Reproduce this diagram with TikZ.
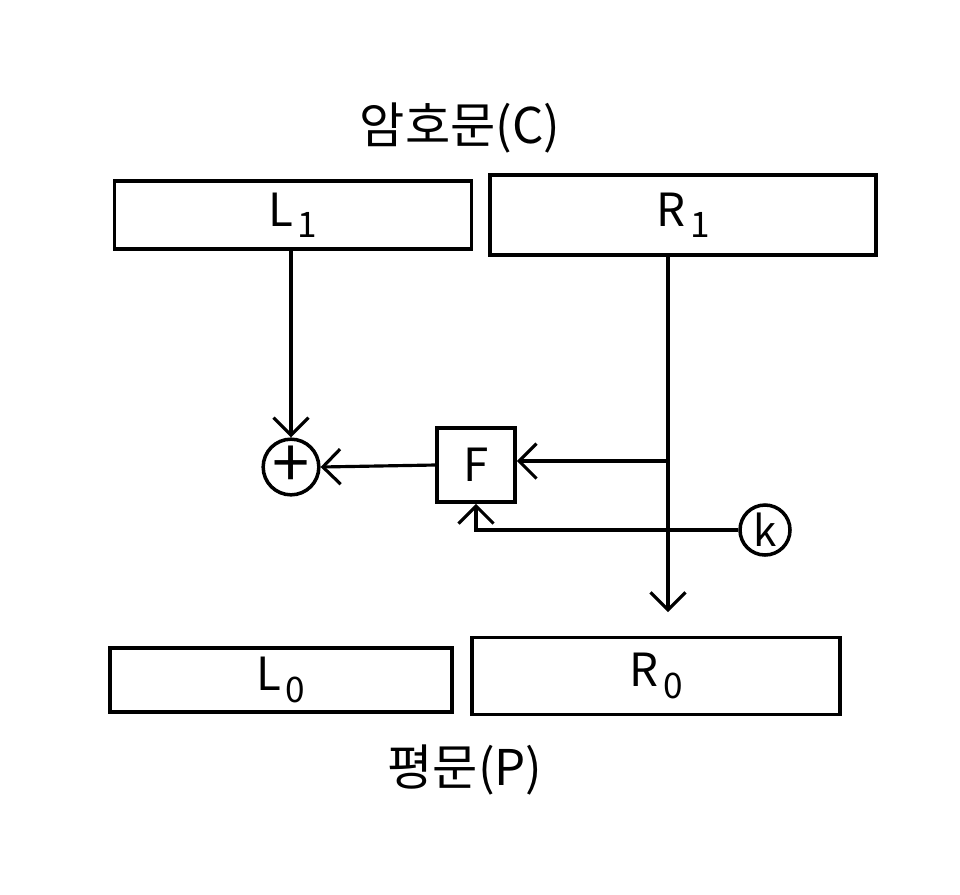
\documentclass[tikz,border=0pt]{standalone}
\usepackage{fontspec}
\setmainfont{Noto Sans CJK KR}
\usetikzlibrary{arrows.meta}
\newcommand{\sublbl}[2]{#1\raisebox{-0.25em}{\kern0.1em\fontsize{20}{22}\selectfont #2}}

\begin{document}
\begin{tikzpicture}[x=0.2mm, y=-0.2mm, line width=2pt,
    half/.style={draw, minimum height=#1, inner sep=0pt, font=\fontsize{26}{30}\selectfont},
    ring/.style={draw, circle, minimum size=#1, inner sep=0pt},
    arr/.style={-{Straight Barb[length=3.5mm, width=7mm, line width=1.8pt]}, line width=1.8pt},
    title/.style={font=\fontsize{28}{32}\selectfont}]
\useasboundingbox (0,0) rectangle (960,894);

\node[title] (ctext) at (460,128) {암호문(C)};
\node[half=13.6mm, minimum width=71.4mm] (L1) at (293,215) {\sublbl{L}{1}};
\node[half=16mm, minimum width=77.2mm] (R1) at (683,215) {\sublbl{R}{1}};

\node[ring=10.8mm, font=\fontsize{38}{40}\selectfont] (xor) at (291,467) {+};
\node[draw, minimum width=15.6mm, minimum height=14.8mm, inner sep=0pt,
      font=\fontsize{26}{30}\selectfont] (F) at (476,465) {F};
\node[ring=10mm, font=\fontsize{24}{28}\selectfont] (k) at (765,530) {k};

\node[half=12.8mm, minimum width=68.4mm] (L0) at (281,680) {\sublbl{L}{0}};
\node[half=15.4mm, minimum width=73.6mm] (R0) at (656,676) {\sublbl{R}{0}};
\node[title] (ptext) at (465,770) {평문(P)};

\coordinate (tap) at (668,461);
\coordinate (rdown) at (668,612);

% round function
\draw[arr] (xor |- L1.south) -- (xor.north);
\draw[arr] (R1.south -| rdown) -- (rdown);
\draw[arr] (tap) -- (F.east |- tap);
\draw[arr] (F.west) -- (xor.east);
\draw[arr] (k.west) -| (F.south);
\end{tikzpicture}
\end{document}
